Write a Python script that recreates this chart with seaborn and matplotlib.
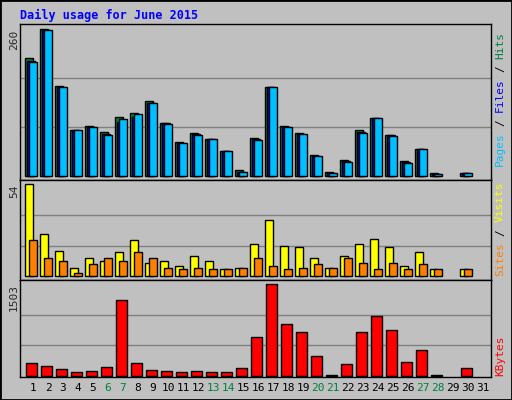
import numpy as np
import matplotlib
matplotlib.use("Agg")
import matplotlib.pyplot as plt
import seaborn as sns
from matplotlib.patches import Rectangle

days = list(range(1, 32))
hits = [209,260,159,81,88,78,104,111,133,94,60,76,65,44,11,67,157,88,76,37,7,28,81,103,73,27,48,5,0,5,0]
files = [204,259,158,81,87,74,95,105,130,93,59,74,65,44,8,65,157,87,75,36,6,26,78,103,72,25,48,4,0,5,0]
pages = [202,258,157,81,87,73,101,110,129,92,58,73,65,44,7,64,157,87,74,35,5,25,76,103,71,23,48,4,0,5,0]
visits = [54,25,15,5,11,9,14,21,8,9,6,12,9,4,5,19,33,18,17,11,5,12,19,22,17,6,14,4,0,4,0]
sites = [21,11,9,2,7,11,9,14,11,5,4,5,4,4,5,11,6,4,5,7,5,11,8,4,8,4,7,4,0,4,0]
kbytes = [203,154,104,55,71,137,1240,203,88,71,55,71,55,55,121,631,1503,845,713,318,16,186,713,976,746,219,417,16,0,121,0]
weekend = {6,7,13,14,20,21,27,28}

sns.set_theme(style="white")
plt.rcParams['font.family'] = ['DejaVu Sans Mono']
BG = '#C0C0C0'
fig = plt.figure(figsize=(5.12, 4.0), dpi=100, facecolor=BG)
W, H = 512, 400
def axes(y0, y1):
    return fig.add_axes([20/W, 1-y1/H, 471/W, (y1-y0)/H], facecolor=BG)
ax1 = axes(24, 180); ax2 = axes(180, 280); ax3 = axes(280, 377)
x = np.array(days, dtype=float)
u = 1/15.0
def bars(ax, vals, left_px, width_px, color):
    v = np.array(vals, dtype=float)
    m = v > 0
    ax.bar(x[m] + left_px*u, v[m], width=width_px*u, align='edge', color=color, edgecolor='black', linewidth=1)

bars(ax1, hits, -7.7, 7.3, '#008040')
bars(ax1, files, -5.7, 7.3, '#0000FF')
bars(ax1, pages, -3.7, 7.3, '#00BFFF')
bars(ax2, visits, -7.7, 8, '#FFFF00')
bars(ax2, sites, -3.7, 7.3, '#FF8000')
bars(ax3, kbytes, -7.0, 10.7, '#FF0000')

for ax, ylim, grid in [(ax1, (-7, 269), [86.7, 173.3]), (ax2, (-2.2, 56.5), [18, 36]), (ax3, (-21, 1575), [501, 1002])]:
    ax.set_xlim(0.13, 31.53)
    ax.set_ylim(*ylim)
    for g in grid:
        ax.axhline(g, color='#808080', lw=1, zorder=0)
    ax.set_yticks([]); ax.set_xticks([])
    for s in ax.spines.values():
        s.set_color('black'); s.set_linewidth(1)

for d in days:
    fig.text((20 + (d - 0.13)*15)/W, 1-388/H, str(d), ha='center', va='center', fontsize=8,
             color='#008040' if d in weekend else 'black')

fig.text(20/W, 1-15/H, 'Daily usage for June 2015', color='#0000FF', fontsize=8.5, fontweight='bold', va='center', ha='left')
fig.text(14/W, 1-30/H, '260', rotation=90, fontsize=8, ha='center', va='top')
fig.text(14/W, 1-185/H, '54', rotation=90, fontsize=8, ha='center', va='top')
fig.text(14/W, 1-284/H, '1503', rotation=90, fontsize=8, ha='center', va='top')

CH = 6.7
def rlabel(y_bottom, parts):
    y = y_bottom
    for txt, col in parts:
        fig.text(500/W, 1-y/H, txt.strip(), rotation=90, fontsize=8, color=col, ha='center', va='bottom')
        y -= len(txt)*CH
rlabel(166, [('Pages ', '#00BFFF'), ('/ ', 'black'), ('Files ', '#0000FF'), ('/ ', 'black'), ('Hits', '#008040')])
rlabel(276, [('Sites ', '#FF8000'), ('/ ', 'black'), ('Visits', '#FFFF00')])
rlabel(376, [('KBytes', '#FF0000')])

fig.patches.append(Rectangle((0, 0), 1, 1, transform=fig.transFigure, fill=False, edgecolor='black', lw=2))
fig.savefig('out.png', dpi=100, facecolor=BG)
